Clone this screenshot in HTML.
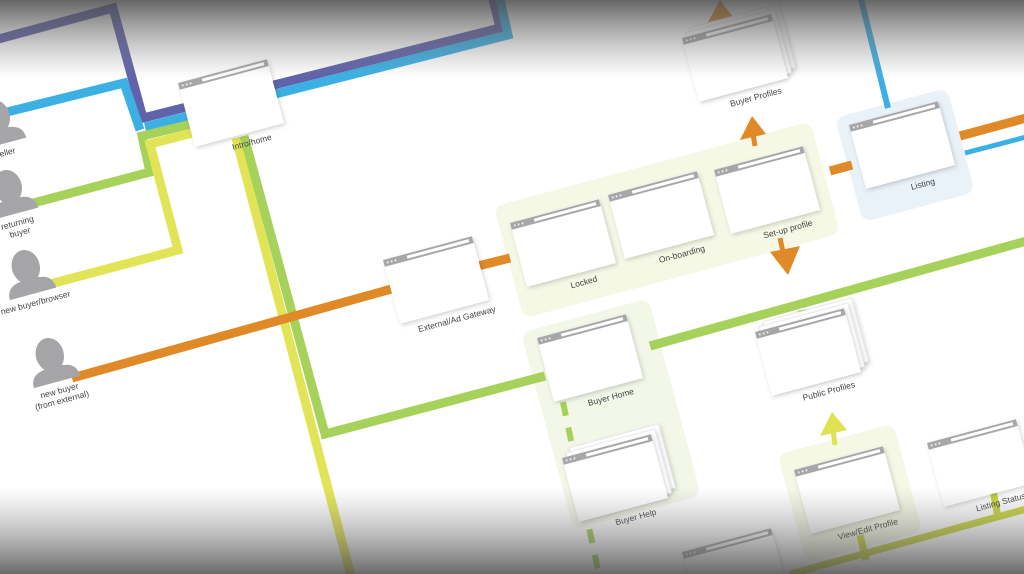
<!DOCTYPE html>
<html><head><meta charset="utf-8"><style>
html,body{margin:0;padding:0;background:#fff;width:1024px;height:574px;overflow:hidden;}
svg{display:block;font-family:"Liberation Sans",sans-serif;}
</style></head><body>
<svg id="s" width="1024" height="574" viewBox="0 0 1024 574" xmlns="http://www.w3.org/2000/svg">
<defs>
<linearGradient id="gt" x1="0" y1="0" x2="0" y2="1"><stop offset="0" stop-color="#4a4a4a" stop-opacity="0.85"/><stop offset="1" stop-color="#888" stop-opacity="0"/></linearGradient>
<linearGradient id="gb" x1="0" y1="0" x2="0" y2="1"><stop offset="0" stop-color="#888" stop-opacity="0"/><stop offset="1" stop-color="#444" stop-opacity="0.8"/></linearGradient>
<filter id="sh" x="-20%" y="-20%" width="140%" height="140%"><feDropShadow dx="1" dy="2" stdDeviation="2" flood-color="#000" flood-opacity="0.18"/></filter>
</defs>
<g>
<rect x="-164" y="-58" width="328" height="116" rx="10" fill="#f6f8e6" transform="translate(667,220) rotate(-15)"/>
<rect x="-58" y="-54" width="116" height="108" rx="10" fill="#e9f1f9" transform="translate(905,155) rotate(-15)"/>
<rect x="-66" y="-102" width="132" height="204" rx="10" fill="#f2f7e8" transform="translate(611,414) rotate(-15)"/>
<rect x="-60" y="-56" width="120" height="112" rx="10" fill="#f6f8e6" transform="translate(850,493) rotate(-15)"/>
</g>
<g fill="none" stroke-width="9" stroke-linejoin="miter">
<polyline stroke="#6063aa" points="-5,40 113,8 143,118 500,28 492,-5"/>
<polyline stroke="#3db0e3" points="145,127 508,35 499,-5"/>
<polyline stroke="#3db0e3" points="-5,115 124,83 140,130"/>
<polyline stroke="#a6d15a" points="22,206 150,172 142,136 200,122"/>
<polyline stroke="#e2e457" points="35,288 178,250 150,144 200,131"/>
<polyline stroke="#e2e457" points="236,138 352,580"/>
<polyline stroke="#a6d15a" points="244,136 325,434 545,376"/>
<polyline stroke="#a6d15a" points="650,346 1030,240"/>
<polyline stroke="#a6d15a" points="802,310 804,322"/>
<polyline stroke="#e08a27" points="72,378 395,288"/>
<polyline stroke="#e08a27" points="470,268 510,258"/>
<polyline stroke="#e08a27" points="830,171 852,165"/>
<polyline stroke="#e08a27" points="960,136 1030,117"/>
<polyline stroke="#3db0e3" stroke-width="6" points="860,-5 888,108"/>
<polyline stroke="#3db0e3" stroke-width="5" points="965,153 1030,136"/>
<polyline stroke="#a6d15a" stroke-width="6" stroke-dasharray="14,12" points="563,402 600,580"/>
<polyline stroke="#c9d43f" stroke-width="7" points="790,574 1030,508"/>
<polyline stroke="#c9d43f" stroke-width="7" points="860,535 866,560"/>
<polyline stroke="#c9d43f" stroke-width="7" points="993,490 998,518"/>
</g>
<g>
<polygon fill="#e08a27" points="708,22 720,0 733,17"/>
<line x1="720" y1="10" x2="722" y2="22" stroke="#e08a27" stroke-width="5"/>
<polygon fill="#e08a27" points="740,140 752,116 766,134"/>
<line x1="753" y1="134" x2="755" y2="146" stroke="#e08a27" stroke-width="5"/>
<polygon fill="#e08a27" points="770,252 800,246 788,275"/>
<line x1="780" y1="238" x2="783" y2="252" stroke="#e08a27" stroke-width="5"/>
<polygon fill="#dfe253" points="820,436 832,412 847,430"/>
<line x1="833" y1="430" x2="835" y2="445" stroke="#dfe253" stroke-width="5"/>
</g>
<g id="boxes"></g>
<g id="people"></g>
<rect x="0" y="0" width="1024" height="78" fill="url(#gt)"/>
<rect x="0" y="488" width="1024" height="86" fill="url(#gb)"/>
</svg>
<script>
var NS="http://www.w3.org/2000/svg";
var boxNames=["Intro/home","External/Ad Gateway","Locked","On-boarding","Set-up profile","Listing","Buyer Profiles","Public Profiles","Buyer Home","Buyer Help","View/Edit Profile","Listing Status",""];
var boxCx=[231,436,563,661,767,902,735,808,590,615,847,980,735];
var boxCy=[103,280,243,215,190,145,58,352,358,478,490,463,572];
var boxStack=[0,0,0,0,0,0,1,1,0,1,0,0,0];
function el(t,a,p){var e=document.createElementNS(NS,t);for(var k in a)e.setAttribute(k,a[k]);p.appendChild(e);return e;}
var G=document.getElementById('boxes');
for(var i=0;i<boxNames.length;i++){
  var g=el('g',{transform:'translate('+boxCx[i]+','+boxCy[i]+') rotate(-15)'},G);
  
  
  var w=92,h=66;
  if(boxStack[i]){for(var s=2;s>=1;s--){var r=el('rect',{x:-w/2+s*5,y:-h/2-s*4,width:w,height:h,fill:'#fff',stroke:'#ddd','stroke-width':0.6,filter:'url(#sh)'},g);
    
    }}
  var b=el('rect',{x:-w/2,y:-h/2,width:w,height:h,fill:'#fff',filter:'url(#sh)'},g);
  
  
  var t=el('rect',{x:-w/2,y:-h/2,width:w,height:7,fill:'#a7a7aa'},g);
  
  
  var u=el('rect',{x:-w/2+24,y:-h/2+2,width:w-28,height:3,fill:'#fff'},g);
  
  
  for(var d=0;d<3;d++){var c=el('circle',{cx:-w/2+4+d*4,cy:-h/2+3.5,r:1,fill:'#eee'},g);
    
    }
  if(boxNames[i]){var tx=el('text',{x:10,y:h/2+13,'font-size':8.5,fill:'#444','text-anchor':'middle'},g);
    
    
    tx.textContent=boxNames[i];}
}
var pLabels=[["seller"],["returning","buyer"],["new buyer/browser"],["new buyer","(from external)"]];
var pX=[2,14,32,56];
var pY=[140,210,290,378];
var P=document.getElementById('people');
for(var j=0;j<pLabels.length;j++){
  var g2=el('g',{transform:'translate('+pX[j]+','+pY[j]+') rotate(-15)'},P);
  
  
  var hd=el('ellipse',{cx:0,cy:-24,rx:14,ry:17,fill:'#a5a5a8'},g2);
  
  
  var bd=el('path',{d:'M-24,4 Q-24,-10 -8,-11 L8,-11 Q24,-10 24,4 Z',fill:'#a5a5a8'},g2);
  
  
  for(var k=0;k<pLabels[j].length;k++){var lt=el('text',{x:0,y:16+k*10,'font-size':8.5,fill:'#444','text-anchor':'middle'},g2);
    
    
    lt.textContent=pLabels[j][k];}
}
</script>
</body></html>
